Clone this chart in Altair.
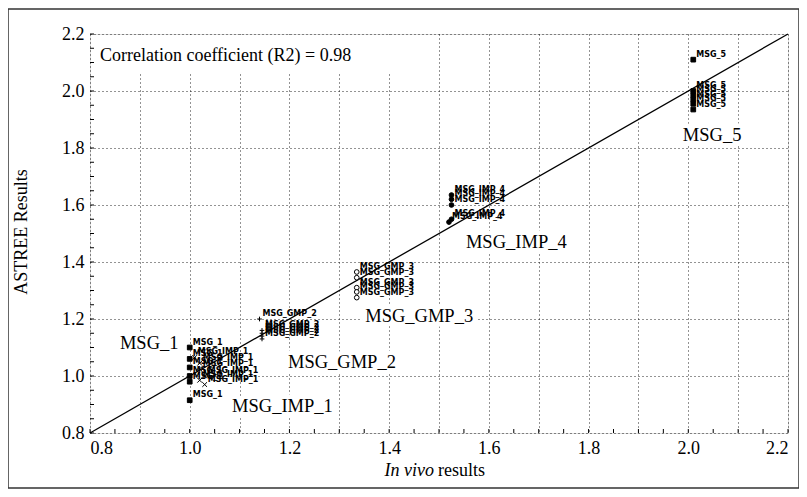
import altair as alt
import pandas as pd

# ---------------- data ----------------
groups = (["MSG_1"] * 6 + ["MSG_IMP_1"] * 6 + ["MSG_GMP_2"] * 5 +
          ["MSG_GMP_3"] * 5 + ["MSG_IMP_4"] * 5 + ["MSG_5"] * 6)
in_vivo = [1.00, 1.00, 1.00, 1.00, 1.00, 1.00,
           1.01, 1.02, 1.02, 1.03, 1.02, 1.03,
           1.14, 1.145, 1.145, 1.145, 1.145,
           1.335, 1.335, 1.335, 1.335, 1.335,
           1.525, 1.525, 1.525, 1.525, 1.52,
           2.01, 2.01, 2.01, 2.01, 2.01, 2.01]
astree = [1.10, 1.06, 1.03, 1.00, 0.98, 0.915,
          1.065, 1.045, 1.025, 1.00, 0.985, 0.97,
          1.20, 1.16, 1.15, 1.14, 1.13,
          1.365, 1.345, 1.31, 1.295, 1.275,
          1.635, 1.62, 1.60, 1.55, 1.54,
          2.11, 2.00, 1.985, 1.97, 1.955, 1.935]

group_names = ["MSG_1", "MSG_IMP_1", "MSG_GMP_2", "MSG_GMP_3", "MSG_IMP_4", "MSG_5"]
group_label_x = [0.86, 1.085, 1.197, 1.352, 1.554, 1.989]
group_label_y = [1.116, 0.895, 1.049, 1.211, 1.470, 1.846]

identity_x = [0.8, 2.2]
identity_y = [0.8, 2.2]

grid_values = [0.8, 0.9, 1.0, 1.1, 1.2, 1.3, 1.4, 1.5, 1.6, 1.7, 1.8, 1.9, 2.0, 2.1, 2.2]
minor_ticks = [round(0.8 + 0.05 * i, 2) for i in range(29)]

r2_text = ["Correlation coefficient (R2) = 0.98"]
r2_x = [0.82]
r2_y = [2.123]

W, H = 698, 399
SERIF = "Liberation Serif, Times New Roman, serif"

points = pd.DataFrame({"group": groups, "x": in_vivo, "y": astree})
glabels = pd.DataFrame({"label": group_names, "x": group_label_x, "y": group_label_y})
diag = pd.DataFrame({"x": identity_x, "y": identity_y})
ticks = pd.DataFrame({"t": minor_ticks})
r2 = pd.DataFrame({"label": r2_text, "x": r2_x, "y": r2_y})

sx = alt.Scale(domain=[0.8, 2.2], nice=False, zero=False)
sy = alt.Scale(domain=[0.8, 2.2], nice=False, zero=False)

label_expr = "abs(round(datum.value*10)) % 2 == 0 ? format(datum.value, '.1f') : ''"
axis_common = dict(values=grid_values, grid=True, gridDash=[1, 3], gridColor="black",
                   gridOpacity=0.85, ticks=False, domain=False, labelExpr=label_expr,
                   labelFont=SERIF, labelFontSize=18, labelColor="black",
                   title=None)

X = alt.X("x:Q", scale=sx, axis=alt.Axis(labelPadding=6, **axis_common))
Y = alt.Y("y:Q", scale=sy, axis=alt.Axis(labelPadding=6, **axis_common))

base = alt.Chart(points)

# outer frame
frame = alt.Chart(pd.DataFrame({"a": [0]})).mark_rect(
    fill=None, stroke="#333333", strokeWidth=1.5
).encode(x=alt.value(-82), x2=alt.value(709), y=alt.value(-25), y2=alt.value(454))

grid_layer = base.mark_point(opacity=0).encode(x=X, y=Y)

# white box behind the correlation text
r2_box = alt.Chart(r2).mark_rect(fill="white", stroke=None).encode(
    x=alt.value(1), x2=alt.value(349), y=alt.value(1), y2=alt.value(40))
r2_label = alt.Chart(r2).mark_text(
    font=SERIF, fontSize=18, align="left", baseline="middle", color="black"
).encode(x=alt.X("x:Q", scale=sx), y=alt.Y("y:Q", scale=sy), text="label:N")

diag_line = alt.Chart(diag).mark_line(color="black", strokeWidth=1.3).encode(
    x=alt.X("x:Q", scale=sx), y=alt.Y("y:Q", scale=sy))

xt = alt.Chart(ticks).mark_rule(color="black").encode(
    x=alt.X("t:Q", scale=sx), y=alt.value(H), y2=alt.value(H - 4))
yt = alt.Chart(ticks).mark_rule(color="black").encode(
    y=alt.Y("t:Q", scale=sy), x=alt.value(0), x2=alt.value(4))

shape_range = ["square", "M-1,-1L1,1M-1,1L1,-1", "M-1,0L1,0M0,-1L0,1",
               "circle", "circle", "square"]
fill_range = ["black", "white", "white", "white", "black", "black"]
pts = base.mark_point(filled=True, stroke="black", strokeWidth=1, size=22, opacity=1).encode(
    x=alt.X("x:Q", scale=sx), y=alt.Y("y:Q", scale=sy),
    shape=alt.Shape("group:N", scale=alt.Scale(domain=group_names, range=shape_range), legend=None),
    fill=alt.Fill("group:N", scale=alt.Scale(domain=group_names, range=fill_range), legend=None),
)

pt_labels = base.mark_text(
    font="DejaVu Sans", fontWeight="bold", fontSize=8, align="left", baseline="alphabetic",
    dx=3, dy=-3, color="black"
).encode(x=alt.X("x:Q", scale=sx), y=alt.Y("y:Q", scale=sy), text="group:N")

g_halo = alt.Chart(glabels).mark_text(
    font=SERIF, fontSize=18.5, align="left", baseline="middle",
    color="white", stroke="white", strokeWidth=9, strokeJoin="round"
).encode(x=alt.X("x:Q", scale=sx), y=alt.Y("y:Q", scale=sy), text="label:N")
g_text = alt.Chart(glabels).mark_text(
    font=SERIF, fontSize=18.5, align="left", baseline="middle", color="black"
).encode(x=alt.X("x:Q", scale=sx), y=alt.Y("y:Q", scale=sy), text="label:N")

one = pd.DataFrame({"a": [0]})
ytitle = alt.Chart(one).mark_text(
    font=SERIF, fontSize=18, angle=270, align="center", baseline="middle",
    color="black", text="ASTREE Results"
).encode(x=alt.value(-68), y=alt.value(198))
xtitle_it = alt.Chart(one).mark_text(
    font=SERIF, fontSize=18, fontStyle="italic", align="right",
    baseline="middle", color="black", text="In vivo"
).encode(x=alt.value(344), y=alt.value(437))
xtitle_rest = alt.Chart(one).mark_text(
    font=SERIF, fontSize=18, align="left",
    baseline="middle", color="black", text="results"
).encode(x=alt.value(348), y=alt.value(437))

chart = alt.layer(
    grid_layer, frame, r2_box, r2_label, g_halo, g_text, xt, yt,
    pt_labels, diag_line, pts, ytitle, xtitle_it, xtitle_rest
).properties(
    width=W, height=H,
    autosize=alt.AutoSizeParams(type="none"),
    padding={"left": 82, "top": 26, "right": 11, "bottom": 56},
).configure_view(stroke="black", strokeWidth=1.2).configure(background="white")

chart.save("out.html", embed_options={"renderer": "svg", "actions": False})
